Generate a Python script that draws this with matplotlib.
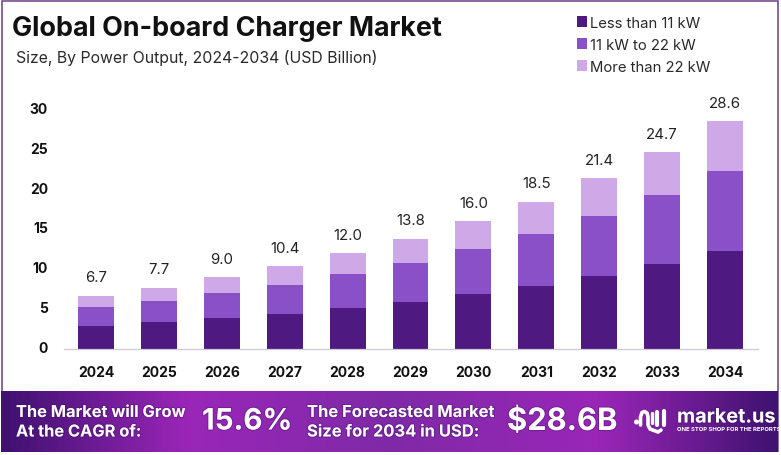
import numpy as np
import matplotlib
matplotlib.use("Agg")
import matplotlib.pyplot as plt
import matplotlib.patheffects as pe
from matplotlib.colors import LinearSegmentedColormap
from matplotlib.patches import Rectangle, Circle
from matplotlib.transforms import ScaledTranslation

years = [2024, 2025, 2026, 2027, 2028, 2029, 2030, 2031, 2032, 2033, 2034]
low = [2.9, 3.4, 3.9, 4.4, 5.1, 5.9, 6.9, 7.9, 9.2, 10.7, 12.3]
mid = [2.4, 2.6, 3.1, 3.6, 4.3, 4.9, 5.6, 6.5, 7.5, 8.6, 10.0]
high = [1.4, 1.7, 2.0, 2.4, 2.6, 3.0, 3.5, 4.1, 4.7, 5.4, 6.3]
totals = [6.7, 7.7, 9.0, 10.4, 12.0, 13.8, 16.0, 18.5, 21.4, 24.7, 28.6]
series_names = ["Less than 11 kW", "11 kW to 22 kW", "More than 22 kW"]
yticks = [0, 5, 10, 15, 20, 25, 30]
FONT = "Inter"
colors = ["#4e1a82", "#8a50c8", "#cfa8e8"]
W, H = 781, 456

fig = plt.figure(figsize=(W / 100, H / 100), dpi=100, facecolor="white")
plt.rcParams["font.family"] = [FONT, "DejaVu Sans"]

bg = fig.add_axes([0, 0, 1, 1], zorder=0)
bg.set_xlim(0, W); bg.set_ylim(H, 0); bg.axis("off")

# outer frame
bg.add_patch(Rectangle((1.5, 1.5), 776, 451, fill=False, ec="#6b3f86", lw=1.1))

# banner gradient
stops = [(0, "#3f1170"), (0.24, "#9a26b8"), (0.5, "#7f2aa8"), (0.77, "#9a26b8"), (1, "#3f1270")]
cmap = LinearSegmentedColormap.from_list("banner", stops)
bg.imshow(np.linspace(0, 1, 512)[None, :], cmap=cmap, aspect="auto",
          extent=(1, 778, 453, 392), zorder=1)
bg.set_xlim(0, W); bg.set_ylim(H, 0)

def banner(x, y, s, size, ha="left"):
    t = bg.text(x, y, s, color="white", fontsize=size, fontweight="bold", ha=ha, va="center",
                family=FONT, zorder=3)
    t.set_path_effects([pe.withStroke(linewidth=1.5, foreground="#3a0f60", alpha=0.35)])
    return t

banner(16, 413.5, "The Market will Grow", 11.8)
banner(16, 433, "At the CAGR of:", 11.8)
banner(202, 423, "15.6%", 21.2)
banner(307, 413.5, "The Forecasted Market", 11.9)
banner(307, 433, "Size for 2034 in USD:", 11.9)
banner(507, 423, "$28.6B", 22.2)
banner(677, 418.5, "market.us", 14.3)
bg.text(677, 430, "ONE STOP SHOP FOR THE REPORTS", color="white", fontsize=4.3, fontweight="bold",
        va="center", family=FONT, zorder=3)

# logo glyph
bg.add_patch(Circle((636.5, 423), 1.8, color="white", zorder=3))
bg.plot([640.5, 640.5, 642, 644.5, 647, 648, 648, 650, 654, 658, 661],
        [426, 418, 413.5, 412.5, 414, 418, 426, 430, 431.5, 433, 431],
        color="white", lw=2.6, solid_capstyle="round", zorder=3)
bg.plot([657, 657], [413, 426], color="white", lw=3, solid_capstyle="round", zorder=3)
bg.plot([664, 664], [412, 426], color="white", lw=3, solid_capstyle="round", zorder=3)
bg.plot([652, 652], [414, 424], color="white", lw=2.4, solid_capstyle="round", zorder=3)

# title block
bg.text(11.5, 28.5, "Global On-board Charger Market", fontsize=19.4, fontweight="bold",
        color="#111111", va="center", family=FONT, zorder=3)
bg.text(16, 58.5, "Size, By Power Output, 2024-2034 (USD Billion)", fontsize=11.4,
        color="#2a2a2a", va="center", family=FONT, zorder=3)

# main chart
x0, x1, y0, y1 = 64, 758, 350, 101
ax = fig.add_axes([x0 / W, 1 - y0 / H, (x1 - x0) / W, (y0 - y1) / H], zorder=2)
ax.patch.set_alpha(0)
px = 62.9
ax.set_xlim(2024 - (96 - x0) / px, 2034 + (x1 - 725) / px)
ax.set_ylim(0, (y0 - y1) / 7.97)

bottom = np.zeros(len(years))
for vals, c, name in zip([low, mid, high], colors, series_names):
    ax.bar(years, vals, width=36 / px, bottom=bottom, color=c, label=name, linewidth=0)
    bottom += np.array(vals)
for yr, top, total in zip(years, bottom, totals):
    ax.text(yr, top + 1.45, f"{total:.1f}", ha="center", va="bottom", fontsize=10.8, color="#222222")

for s in ["top", "right", "left"]:
    ax.spines[s].set_visible(False)
ax.spines["bottom"].set_color("#cfc8d6")
ax.spines["bottom"].set_linewidth(0.9)
ax.set_xticks(years)
ax.set_xticklabels(years)
ax.set_yticks(yticks)
ax.tick_params(axis="both", length=0, labelsize=10, labelcolor="#111111")
ax.tick_params(axis="x", pad=11.7)
ax.tick_params(axis="y", pad=11.5)
for lab in ax.get_xticklabels() + ax.get_yticklabels():
    lab.set_fontweight("bold")
lift = ScaledTranslation(0, 2.5 / 100, fig.dpi_scale_trans)
for lab in ax.get_yticklabels():
    lab.set_transform(lab.get_transform() + lift)

leg = ax.legend(loc="upper left", bbox_to_anchor=((577 - x0) / (x1 - x0), (y0 - 16.5) / (y0 - y1)),
                frameon=False, fontsize=10.7, handlelength=0.7, handleheight=0.7,
                handletextpad=0.15, labelspacing=0.55, borderpad=0, borderaxespad=0,
                labelcolor="#2a2a2a")

fig.savefig("out.png", dpi=100)
